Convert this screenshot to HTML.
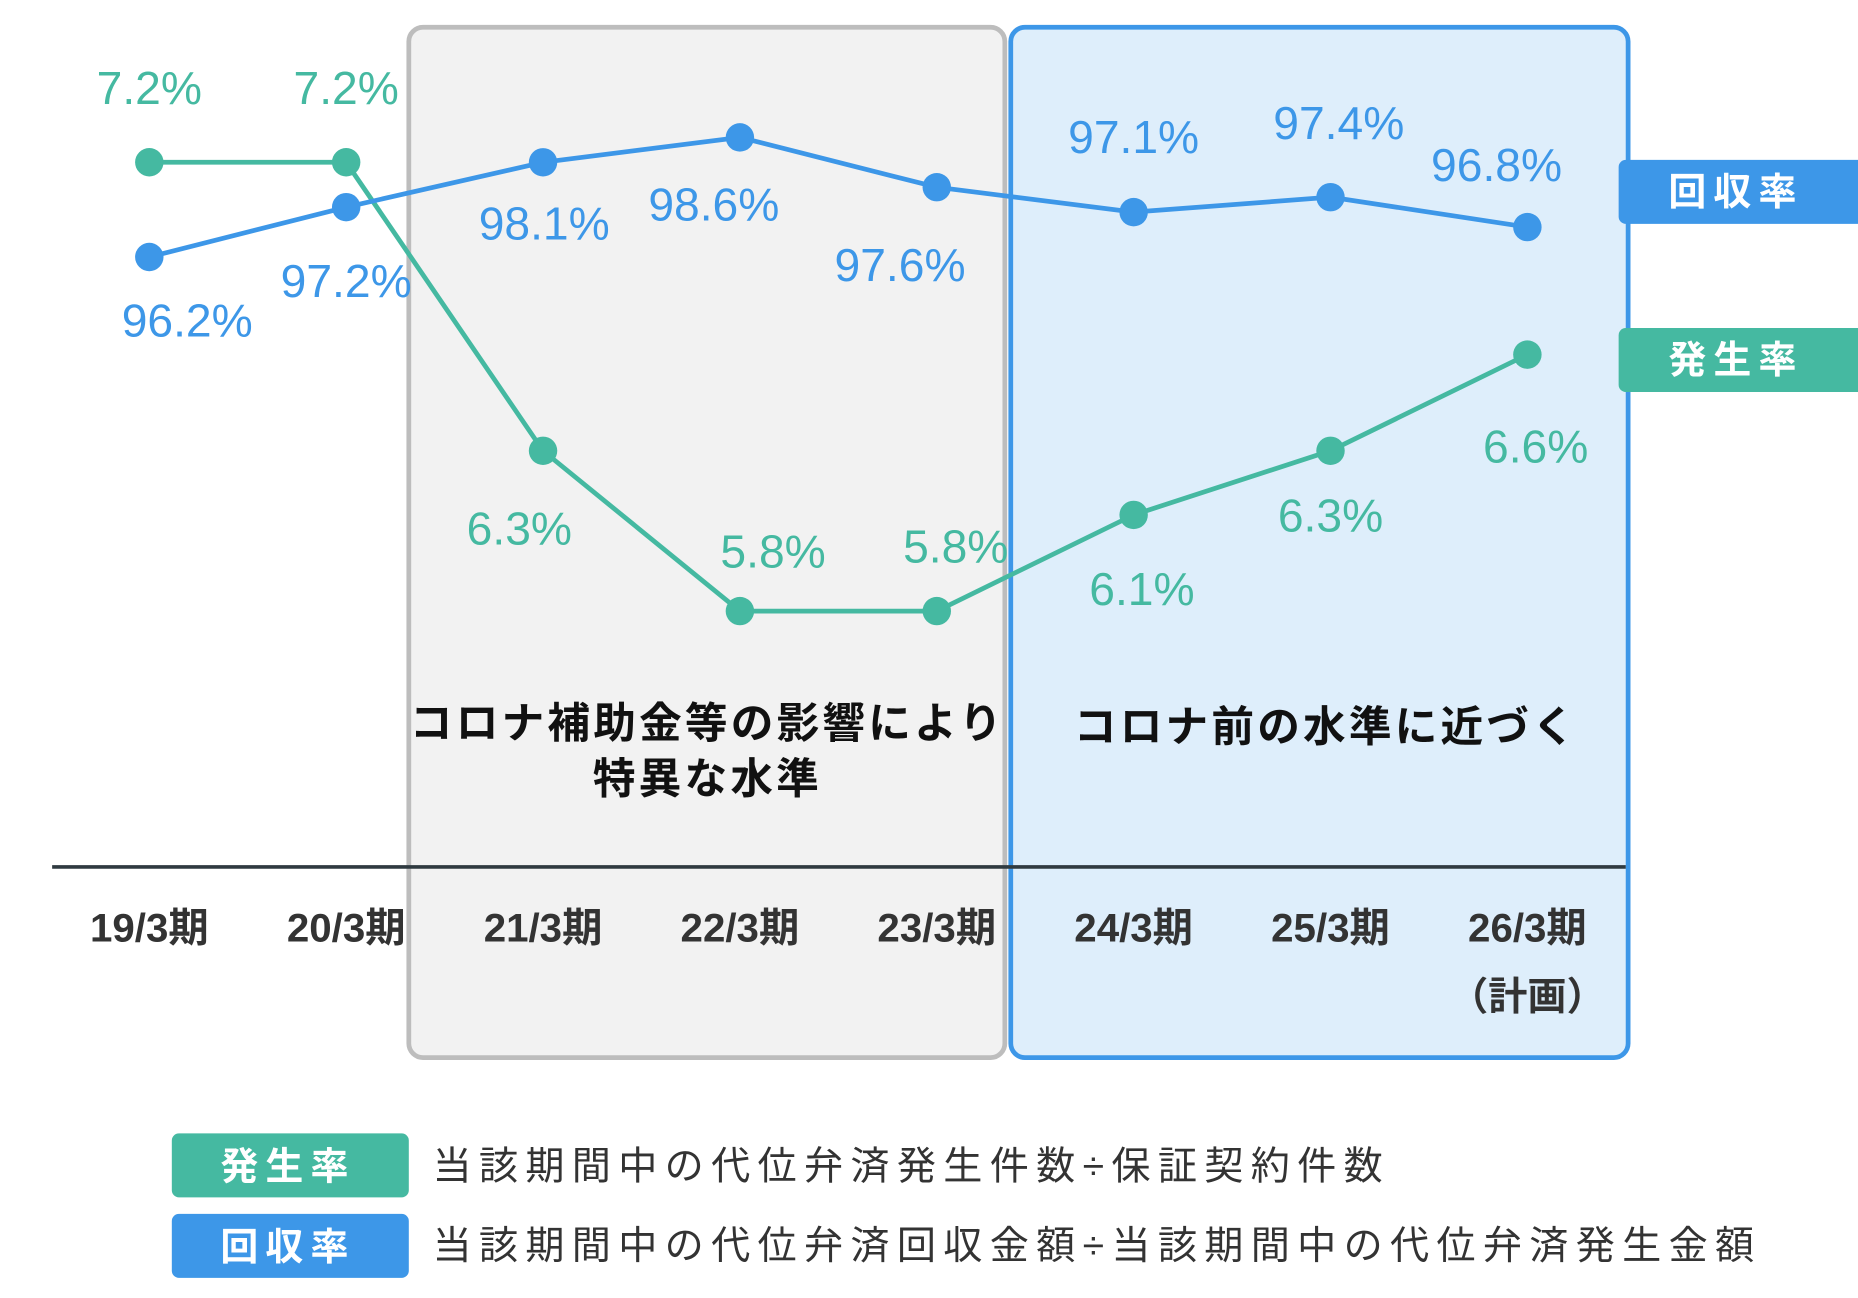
<!DOCTYPE html>
<html><head><meta charset="utf-8"><style>
html,body{margin:0;padding:0;background:#fff}
svg{display:block}
text{font-family:"Liberation Sans","Noto Sans CJK JP",sans-serif}
</style></head><body>
<svg id="chart" width="1858" height="1298" viewBox="0 0 1568 1096" preserveAspectRatio="none" xmlns="http://www.w3.org/2000/svg">
<rect x="345" y="23" width="503" height="870" rx="12" fill="#f2f2f2" stroke="#bdbdbd" stroke-width="4"/>
<rect x="853" y="23" width="521" height="870" rx="12" fill="#deeefb" stroke="#3d97e8" stroke-width="4"/>
<line x1="44" y1="732" x2="1372" y2="732" stroke="#2f3a40" stroke-width="3"/>
<g id="xlabels"></g>
<text x="1289" y="853" text-anchor="middle" font-size="33" font-weight="bold" fill="#333">（計画）</text>
<text x="597" y="623" text-anchor="middle" font-size="36" font-weight="bold" fill="#111" letter-spacing="2.7">コロナ補助金等の影響により</text>
<text x="597" y="670" text-anchor="middle" font-size="36" font-weight="bold" fill="#111" letter-spacing="2.7">特異な水準</text>
<text x="1119" y="626" text-anchor="middle" font-size="36" font-weight="bold" fill="#111" letter-spacing="2.7">コロナ前の水準に近づく</text>
<g id="series"></g>
<g>
<rect x="1366" y="135" width="210" height="54" rx="6" fill="#3d97e8"/>
<text x="1465" y="173" text-anchor="middle" font-size="32" font-weight="bold" fill="#fff" letter-spacing="6">回収率</text></g>
<g>
<rect x="1366" y="277" width="210" height="54" rx="6" fill="#45b9a1"/>
<text x="1465" y="315" text-anchor="middle" font-size="32" font-weight="bold" fill="#fff" letter-spacing="6">発生率</text></g>
<g>
<rect x="145" y="957" width="200" height="54" rx="6" fill="#45b9a1"/>
<text x="243" y="996" text-anchor="middle" font-size="32" font-weight="bold" fill="#fff" letter-spacing="6">発生率</text>
<text x="365" y="996" font-size="33" fill="#333" letter-spacing="6.2">当該期間中の代位弁済発生件数÷保証契約件数</text></g>
<g>
<rect x="145" y="1025" width="200" height="54" rx="6" fill="#3d97e8"/>
<text x="243" y="1064" text-anchor="middle" font-size="32" font-weight="bold" fill="#fff" letter-spacing="6">回収率</text>
<text x="365" y="1063" font-size="33" fill="#333" letter-spacing="6.2">当該期間中の代位弁済回収金額÷当該期間中の代位弁済発生金額</text></g>
</svg>
<script>
const categories = ["19/3期","20/3期","21/3期","22/3期","23/3期","24/3期","25/3期","26/3期"];
const collectionRate = [96.2,97.2,98.1,98.6,97.6,97.1,97.4,96.8];
const occurrenceRate = [7.2,7.2,6.3,5.8,5.8,6.1,6.3,6.6];
const collectionLabelOffset = [[32,54],[0,63],[1,52],[-22,57],[-31,66],[0,-63],[7,-62],[-26,-52]];
const occurrenceLabelOffset = [[0,-62],[0,-62],[-20,66],[28,-50],[16,-54],[7,63],[0,55],[7,78]];
const NS="http://www.w3.org/2000/svg";
const svg=document.getElementById('chart');
const xS=i=>126+i*166.14;
const yC=v=>217-(v-96.2)*42.08;
const yO=v=>137+(7.2-v)*270.7;
function mk(t,a){const e=document.createElementNS(NS,t);for(const k in a)e.setAttribute(k,a[k]);return e;}
const xl=document.getElementById('xlabels');
categories.forEach((c,i)=>{const t=mk('text',{x:xS(i),y:795,'text-anchor':'middle','font-size':34,'font-weight':'bold',fill:'#333'});


t.textContent=c;xl.appendChild(t);});
const g=document.getElementById('series');
function draw(vals,ys,col,offs,name){
 const pl=mk('polyline',{points:vals.map((v,i)=>xS(i)+','+ys(v)).join(' '),fill:'none',stroke:col,'stroke-width':4});
 
 
 g.appendChild(pl);
 vals.forEach((v,i)=>{
  const c=mk('circle',{cx:xS(i),cy:ys(v),r:12,fill:col});
  
  
  g.appendChild(c);
  const t=mk('text',{x:xS(i)+offs[i][0],y:ys(v)+offs[i][1]+13,'text-anchor':'middle','font-size':39,fill:col});
  
  
  t.textContent=v.toFixed(1)+'%';g.appendChild(t);
 });
}
draw(occurrenceRate,yO,'#45b9a1',occurrenceLabelOffset,'occurrence');
draw(collectionRate,yC,'#3d97e8',collectionLabelOffset,'collection');
</script>
</body></html>
